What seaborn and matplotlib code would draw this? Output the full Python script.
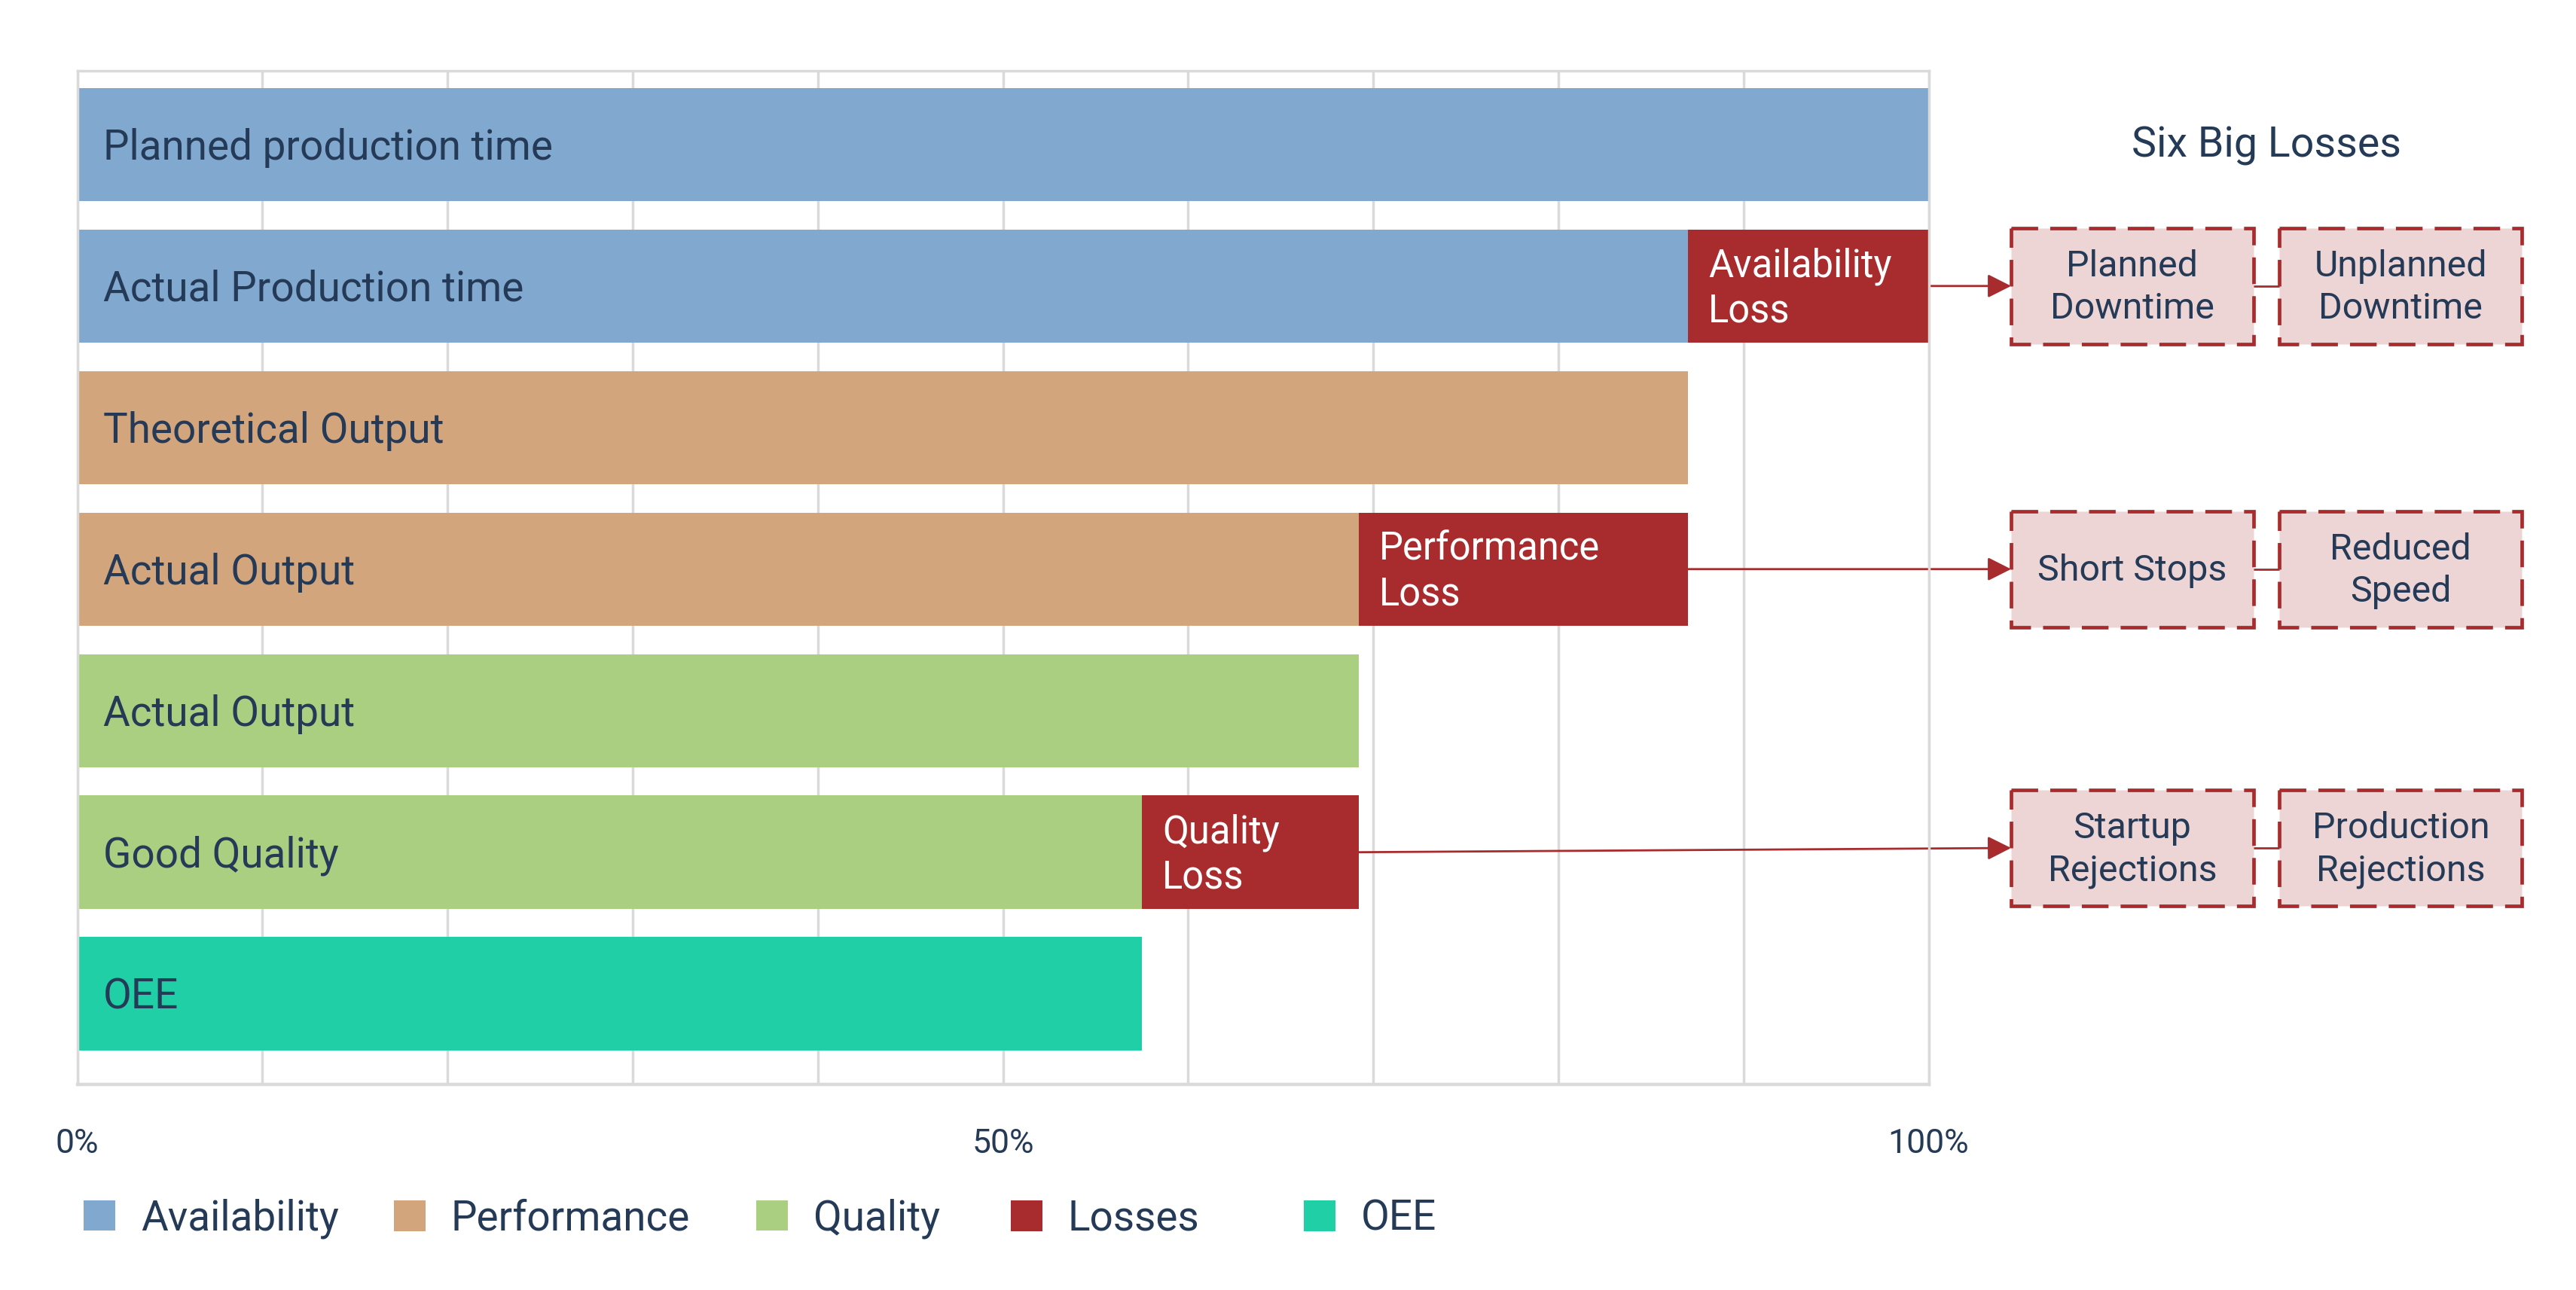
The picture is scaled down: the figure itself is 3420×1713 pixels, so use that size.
import matplotlib
matplotlib.use("Agg")
import matplotlib.pyplot as plt
import seaborn as sns
import pandas as pd
from matplotlib.patches import Rectangle, Patch

# ---------------- data ----------------
row_labels = ["Planned production time", "Actual Production time", "Theoretical Output",
              "Actual Output", "Actual Output", "Good Quality", "OEE"]
row_groups = ["Availability", "Availability", "Performance", "Performance",
              "Quality", "Quality", "OEE"]
row_values = [100, 87, 87, 69.2, 69.2, 57.5, 57.5]

loss_rows = [1, 3, 5]
loss_ends = [100, 87, 69.2]
loss_labels = ["Availability\nLoss", "Performance\nLoss", "Quality\nLoss"]

cause_left = ["Planned\nDowntime", "Short Stops", "Startup\nRejections"]
cause_right = ["Unplanned\nDowntime", "Reduced\nSpeed", "Production\nRejections"]
side_title = "Six Big Losses"

legend_items = ["Availability", "Performance", "Quality", "Losses", "OEE"]
tick_values = [0, 50, 100]
tick_labels = ["0%", "50%", "100%"]
grid_values = list(range(0, 101, 10))

# ---------------- style ----------------
colors = {"Availability": "#81A8CF", "Performance": "#D2A57D", "Quality": "#AACF80",
          "Losses": "#A82C2E", "OEE": "#20CFA6"}
text_color = "#253A56"
grid_color = "#DADADA"
box_fill = "#EDD5D6"

sns.set_theme(style="white")
plt.rcParams["font.family"] = ["Roboto", "DejaVu Sans"]

row_ids = [f"r{i}" for i in range(len(row_labels))]
df = pd.DataFrame({"row": row_ids, "value": row_values, "group": row_groups})
loss_df = pd.DataFrame({"row": [row_ids[i] for i in loss_rows], "end": loss_ends})

fig = plt.figure(figsize=(34.2, 17.13), dpi=100)
ax = fig.add_axes([0.0300, 0.1594, 0.7187, 0.7857])

# loss bars (full length, then covered by the main bars)
sns.barplot(data=loss_df, x="end", y="row", order=row_ids, color=colors["Losses"],
            saturation=1, width=0.8, errorbar=None, linewidth=0, ax=ax)
sns.barplot(data=df, x="value", y="row", hue="group", order=row_ids,
            palette={k: colors[k] for k in ["Availability", "Performance", "Quality", "OEE"]},
            saturation=1, width=0.8, dodge=False, errorbar=None, linewidth=0,
            legend=False, ax=ax)

ax.set_xlim(0, 100)
ax.set_ylim(6.64, -0.52)
ax.set_xticks(tick_values)
ax.set_xticklabels(tick_labels)
ax.set_xticks(grid_values, minor=True)
ax.set_yticks([])
ax.set_xlabel("")
ax.set_ylabel("")
ax.set_axisbelow(True)
ax.grid(which="both", axis="x", color=grid_color, lw=2.5)
ax.grid(False, axis="y")
ax.tick_params(axis="x", which="both", length=0, pad=42, labelsize=32, labelcolor=text_color)
for sp in ax.spines.values():
    sp.set_visible(True)
    sp.set_color(grid_color)
    sp.set_linewidth(2.5)
ax.spines["bottom"].set_linewidth(3.2)

# bar labels
for i, lab in enumerate(row_labels):
    ax.text(1.4, i + 0.025, lab, ha="left", va="center", fontsize=39.5, color=text_color)

# loss labels
for r, lab in zip(loss_rows, loss_labels):
    ax.text(row_values[r] + 1.1, r + 0.02, lab, ha="left", va="center", fontsize=36.5,
            color="white", linespacing=1.25)

# side boxes
bx1, bx2, bw = 104.45, 118.95, 13.1
bh = 0.82
box_offsets = [0.0, 0.0, -0.03]
red = colors["Losses"]
for k, (r, end) in enumerate(zip(loss_rows, loss_ends)):
    yc = r + box_offsets[k]
    for x0, lab in ((bx1, cause_left[k]), (bx2, cause_right[k])):
        ax.add_patch(Rectangle((x0, yc - bh / 2), bw, bh, facecolor=box_fill,
                               edgecolor=red, lw=3.4, linestyle=(0, (7.5, 3.4)),
                               clip_on=False, zorder=3))
        ax.text(x0 + bw / 2, yc + 0.012, lab, ha="center", va="center", fontsize=34.8,
                color=text_color, linespacing=1.3, zorder=4)
    ax.plot([bx1 + bw, bx2], [yc, yc], color=red, lw=2, clip_on=False, zorder=2)
    ax.annotate("", xy=(bx1, yc), xytext=(end, r),
                arrowprops=dict(arrowstyle="-|>,head_length=0.95,head_width=0.48",
                                color=red, lw=2, shrinkA=0, shrinkB=0,
                                mutation_scale=20),
                annotation_clip=False, zorder=2)

ax.text((bx1 + bx2 + bw) / 2, 0.01, side_title, ha="center", va="center",
        fontsize=40, color=text_color)

# legend (one entry per legend so each sits where the reference puts it)
legend_x = [0.0325, 0.1529, 0.2936, 0.3924, 0.5061]
for name, lx in zip(legend_items, legend_x):
    fig.legend(handles=[Patch(facecolor=colors[name], edgecolor="none", label=name)],
               loc="center left", bbox_to_anchor=(lx, 0.0555),
               frameon=False, fontsize=39.5, handlelength=0.76, handleheight=0.76,
               handletextpad=0.62, borderpad=0, borderaxespad=0,
               labelcolor=text_color)

fig.savefig("out.png", dpi=100, facecolor="white")
